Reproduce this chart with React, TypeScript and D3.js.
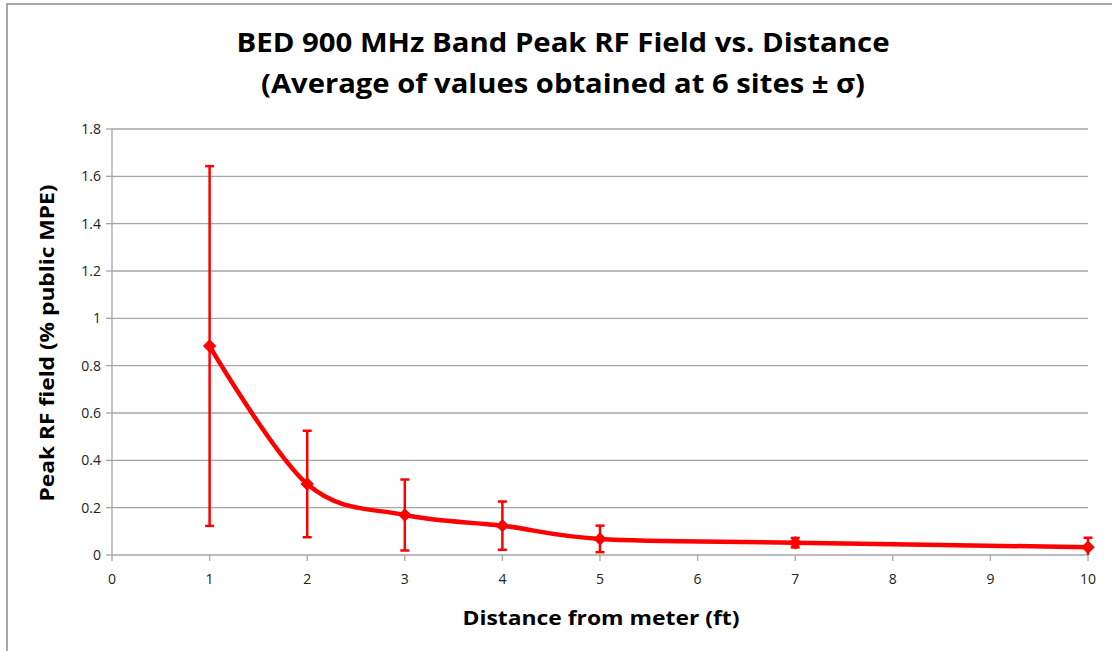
import React from "react";
import * as d3 from "d3";

const distances = [1, 2, 3, 4, 5, 7, 10];
const peakField = [0.883, 0.30, 0.169, 0.124, 0.068, 0.052, 0.033];
const sigma = [0.76, 0.225, 0.15, 0.102, 0.056, 0.02, 0.04];
const xTicks = [0, 1, 2, 3, 4, 5, 6, 7, 8, 9, 10];
const yTicks = [0, 0.2, 0.4, 0.6, 0.8, 1, 1.2, 1.4, 1.6, 1.8];
const titleLines = [
  "BED 900 MHz Band Peak RF Field vs. Distance",
  "(Average of values obtained at 6 sites ± σ)",
];
const xTitle = "Distance from meter (ft)";
const yTitle = "Peak RF field (% public MPE)";

const W = 1112;
const H = 651;
const left = 112;
const right = 1088;
const top = 129;
const bottom = 555;
const FONT = "'Open Sans', 'DejaVu Sans', sans-serif";
const GRID = "#a6a6a6";
const RED = "#ff0000";

export default function App() {
  const x = d3.scaleLinear().domain([0, 10]).range([left, right]);
  const y = d3.scaleLinear().domain([0, 1.8]).range([bottom, top]);
  const pts: [number, number][] = distances.map((d, i) => [x(d), y(peakField[i])]);
  const line = d3.line().curve(d3.curveCatmullRom.alpha(0))(pts) || "";
  const marker = d3.symbol().type(d3.symbolSquare).size(72)() || "";

  return (
    <div style={{ position: "absolute", left: 0, top: 0 }}>
      <svg width={W} height={H} style={{ display: "block", background: "#fff" }}>
        <defs>
          <clipPath id="plot">
            <rect x={left - 10} y={top - 10} width={right - left + 20} height={bottom - top + 10} />
          </clipPath>
        </defs>
        {/* outer frame */}
        <rect x={7} y={4} width={W + 20} height={H + 20} fill="none" stroke="#8c8c8c" strokeWidth={1.5} />
        {/* title */}
        {titleLines.map((t, i) => (
          <text
            key={i}
            x={563}
            y={52 + i * 41}
            textAnchor="middle"
            fontFamily={FONT}
            fontWeight="bold"
            fontSize={27}
            textLength={i === 0 ? 653 : 604}
            lengthAdjust="spacingAndGlyphs"
            fill="#000"
          >
            {t}
          </text>
        ))}
        {/* gridlines */}
        {yTicks.filter((t) => t > 0).map((t) => (
          <line key={t} x1={left} x2={right} y1={y(t)} y2={y(t)} stroke={GRID} strokeWidth={1.3} />
        ))}
        {/* axes */}
        <line x1={left} x2={left} y1={top} y2={bottom} stroke={GRID} strokeWidth={1.3} />
        <line x1={left} x2={right} y1={bottom} y2={bottom} stroke={GRID} strokeWidth={1.3} />
        {yTicks.map((t) => (
          <g key={t}>
            <line x1={left - 6} x2={left} y1={y(t)} y2={y(t)} stroke={GRID} strokeWidth={1.3} />
            <text x={left - 11} y={y(t) + 5} textAnchor="end" fontFamily={FONT} fontSize={14} fill="#222">
              {String(t)}
            </text>
          </g>
        ))}
        {xTicks.map((t) => (
          <g key={t}>
            <line x1={x(t)} x2={x(t)} y1={bottom} y2={bottom + 6} stroke={GRID} strokeWidth={1.3} />
            <text x={x(t)} y={bottom + 29} textAnchor="middle" fontFamily={FONT} fontSize={14} fill="#222">
              {String(t)}
            </text>
          </g>
        ))}
        {/* axis titles */}
        <text
          x={(left + right) / 2 + 1}
          y={625}
          textAnchor="middle"
          fontFamily={FONT}
          fontWeight="bold"
          fontSize={20}
          textLength={277}
          lengthAdjust="spacingAndGlyphs"
          fill="#000"
        >
          {xTitle}
        </text>
        <text
          transform={`translate(54, 343) rotate(-90)`}
          textAnchor="middle"
          fontFamily={FONT}
          fontWeight="bold"
          fontSize={20}
          textLength={317}
          lengthAdjust="spacingAndGlyphs"
          fill="#000"
        >
          {yTitle}
        </text>
        {/* series */}
        <g clipPath="url(#plot)">
          <path d={line} fill="none" stroke={RED} strokeWidth={4.5} strokeLinejoin="round" strokeLinecap="round" />
          {distances.map((d, i) => {
            const cx = x(d);
            const y1 = y(peakField[i] + sigma[i]);
            const y0 = y(Math.max(peakField[i] - sigma[i], -0.05));
            return (
              <g key={d} stroke={RED} strokeWidth={2.5}>
                <line x1={cx} x2={cx} y1={y1} y2={y0} />
                <line x1={cx - 4.5} x2={cx + 4.5} y1={y1} y2={y1} />
                <line x1={cx - 4.5} x2={cx + 4.5} y1={y0} y2={y0} />
              </g>
            );
          })}
          {pts.map(([px, py], i) => (
            <path key={i} d={marker} transform={`translate(${px},${py}) rotate(45)`} fill={RED} stroke={RED} strokeWidth={1} />
          ))}
        </g>
      </svg>
    </div>
  );
}
